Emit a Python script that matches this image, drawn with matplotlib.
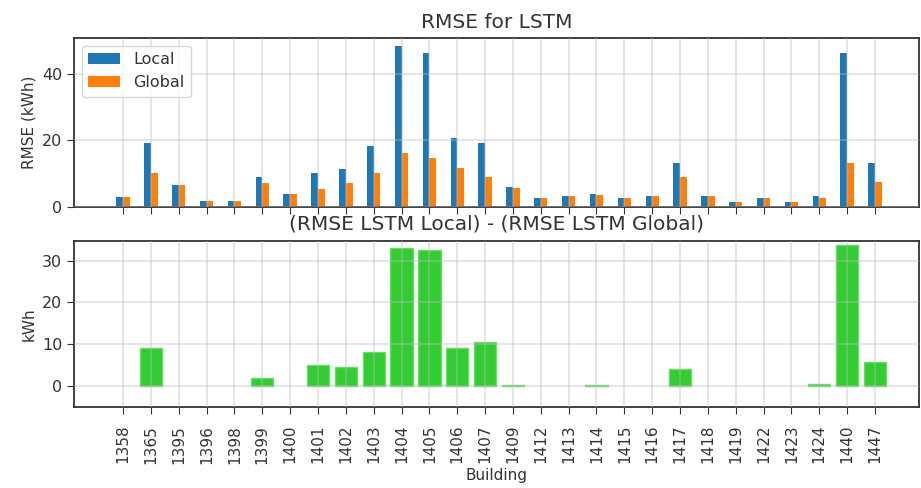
import matplotlib
matplotlib.use('Agg')
import matplotlib.pyplot as plt
import numpy as np

buildings = ['1358', '1365', '1395', '1396', '1398', '1399', '1400', '1401', '1402', '1403',
             '1404', '1405', '1406', '1407', '1409', '1412', '1413', '1414', '1415', '1416',
             '1417', '1418', '1419', '1422', '1423', '1424', '1440', '1447']

rmse_local = [2.8, 19.2, 6.4, 1.8, 1.8, 9.1, 3.85, 10.1, 11.5, 18.2,
              48.5, 46.5, 20.7, 19.2, 5.9, 2.7, 3.3, 3.85, 2.7, 3.3,
              13.1, 3.3, 1.3, 2.7, 1.3, 3.3, 46.5, 13.1]
rmse_global = [2.8, 10.1, 6.4, 1.8, 1.8, 7.1, 3.85, 5.4, 7.1, 10.1,
               16.2, 14.7, 11.6, 9.1, 5.6, 2.7, 3.3, 3.6, 2.7, 3.3,
               9.1, 3.3, 1.3, 2.7, 1.3, 2.7, 13.1, 7.5]
# nan = no bar visible (global not better than local)
nan = np.nan
rmse_diff = [nan, 9.0, nan, nan, nan, 2.0, nan, 4.9, 4.6, 8.2,
             33.0, 32.5, 9.0, 10.6, 0.3, nan, nan, 0.3, nan, nan,
             4.0, nan, nan, nan, nan, 0.4, 33.7, 5.7]

plt.rcParams['font.size'] = 11
plt.rcParams['text.color'] = '#333333'
plt.rcParams['axes.labelcolor'] = '#333333'
plt.rcParams['axes.edgecolor'] = '#333333'
plt.rcParams['axes.linewidth'] = 1.3

x = np.arange(len(buildings))
w = 0.24

fig = plt.figure(figsize=(9.21, 4.88), dpi=100)
ax1 = fig.add_axes([74/921, 1-206.7/488, (919-74)/921, (206.7-38)/488])
ax2 = fig.add_axes([74/921, 1-406.7/488, (919-74)/921, (406.7-240.7)/488], sharex=ax1)

ax1.bar(x - w/2, rmse_local, w, color='#1f77b4', label='Local')
ax1.bar(x + w/2, rmse_global, w, color='#ff7f0e', label='Global')
ax1.set_title('RMSE for LSTM', fontsize=14.5, pad=7)
ax1.set_ylabel('RMSE (kWh)', fontsize=11)
ax1.legend(loc='upper left', fontsize=11.5)
ax1.set_axisbelow(False)
ax1.grid(True, color='#bbbbbb', alpha=0.45, linewidth=1.2)
ax1.tick_params(axis='x', labelbottom=False, length=5, color='#333333')
ax1.tick_params(axis='y', length=5, color='#333333', labelcolor='#333333', labelsize=11.5)
ax1.set_ylim(0, 50.9)

ax2.bar(x, rmse_diff, 0.8, color='#33cc33', edgecolor='#66dd66', linewidth=1)
ax2.set_title('(RMSE LSTM Local) - (RMSE LSTM Global)', fontsize=14.5, pad=8)
ax2.set_ylabel('kWh', fontsize=11)
ax2.set_xlabel('Building', fontsize=11, labelpad=3)
ax2.set_xticks(x)
ax2.set_xticklabels(buildings, rotation=90)
ax2.set_axisbelow(False)
ax2.grid(True, color='#bbbbbb', alpha=0.45, linewidth=1.2)
ax2.tick_params(length=5, color='#333333', labelcolor='#333333', labelsize=11.5)
ax2.tick_params(axis='x', pad=8, labelsize=11)
ax2.set_ylim(-5, 34.8)
ax2.set_yticks([0, 10, 20, 30])
ax2.set_xlim(-1.76, 27 + 1.58)

fig.savefig('out.png', dpi=100)
